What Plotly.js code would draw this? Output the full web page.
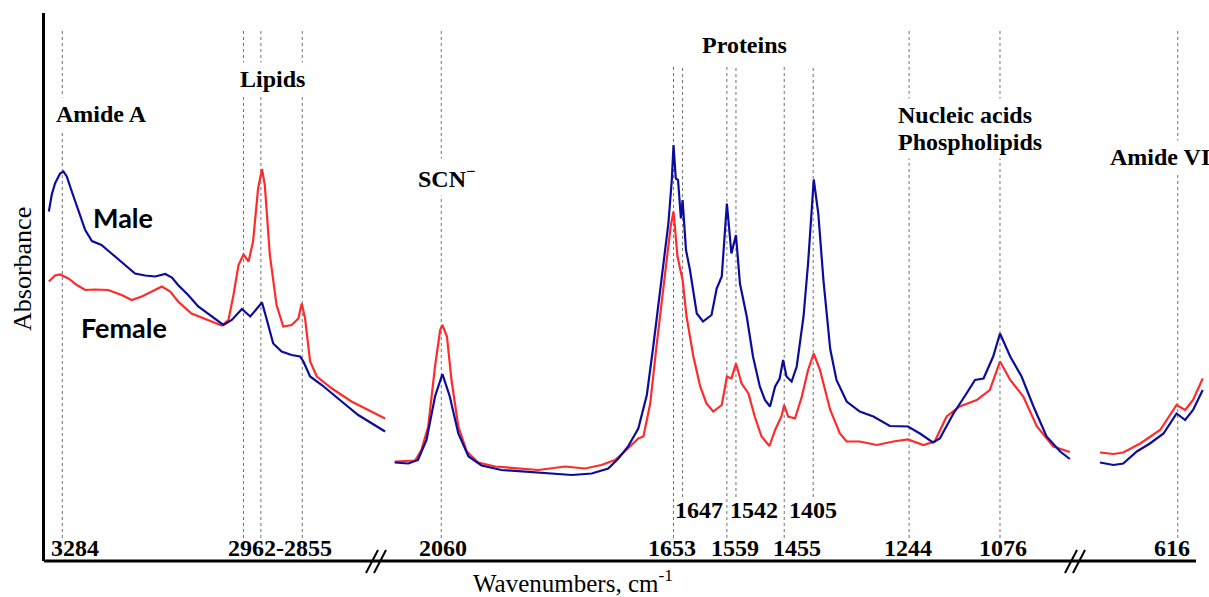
<!DOCTYPE html>
<html>
<head>
<meta charset="utf-8">
<script src="https://cdn.plot.ly/plotly-3.0.1.min.js"></script>
<style>html,body{margin:0;padding:0;background:#fff;}#chart{width:1209px;height:597px;}</style>
</head>
<body>
<div id="chart"></div>
<script>
// ---------------- DATA ----------------
// Segment 1 (high wavenumber region), cm-1 and absorbance (a.u.)
const maleWn1 = [3308,3303,3297,3288,3282,3276,3267,3255,3243,3231,3214,3196,3172,3154,3136,3118,3100,3088,3077,3059,3041,3017,2996,2981,2963,2948,2936,2927,2919,2907,2892,2874,2859,2853,2841,2820,2791,2755,2707];
const maleAbs1 = [0.699,0.732,0.755,0.775,0.779,0.769,0.739,0.699,0.662,0.640,0.632,0.615,0.592,0.575,0.571,0.569,0.574,0.567,0.552,0.532,0.509,0.489,0.472,0.482,0.504,0.489,0.505,0.517,0.485,0.435,0.419,0.412,0.409,0.399,0.369,0.352,0.325,0.292,0.259];
const femaleWn1 = [3308,3297,3288,3273,3258,3243,3226,3202,3178,3160,3142,3124,3106,3091,3077,3053,3029,2999,2987,2978,2969,2960,2951,2943,2934,2927,2922,2913,2901,2889,2874,2862,2856,2850,2841,2829,2802,2767,2707];
const femaleAbs1 = [0.559,0.571,0.573,0.565,0.552,0.542,0.543,0.542,0.532,0.522,0.529,0.539,0.549,0.539,0.519,0.495,0.485,0.471,0.482,0.532,0.592,0.613,0.599,0.639,0.745,0.784,0.752,0.612,0.512,0.469,0.472,0.485,0.515,0.485,0.399,0.369,0.345,0.319,0.285];

// Segment 2 (2150-950 cm-1)
const maleWn2 = [2142,2118,2101,2086,2071,2058,2045,2030,2012,1989,1954,1913,1866,1830,1795,1766,1748,1731,1713,1698,1687,1678,1669,1660,1654,1651,1647,1643,1638,1635,1629,1622,1610,1599,1584,1575,1566,1557,1549,1541,1534,1522,1511,1499,1490,1481,1472,1464,1458,1452,1443,1434,1422,1414,1404,1396,1387,1375,1364,1346,1323,1299,1270,1238,1217,1194,1182,1158,1135,1120,1105,1088,1076,1058,1038,1017,994,970,953];
const maleAbs2 = [0.197,0.195,0.202,0.242,0.329,0.374,0.329,0.255,0.209,0.191,0.182,0.179,0.175,0.172,0.175,0.185,0.205,0.229,0.265,0.332,0.426,0.509,0.602,0.675,0.762,0.832,0.765,0.762,0.685,0.722,0.622,0.582,0.495,0.479,0.492,0.545,0.569,0.715,0.615,0.652,0.555,0.489,0.409,0.349,0.322,0.309,0.349,0.365,0.402,0.369,0.359,0.389,0.489,0.595,0.763,0.695,0.562,0.424,0.362,0.319,0.299,0.289,0.270,0.269,0.255,0.237,0.245,0.295,0.335,0.362,0.365,0.409,0.455,0.409,0.369,0.309,0.249,0.219,0.204];
const femaleWn2 = [2142,2106,2095,2083,2071,2062,2058,2050,2042,2030,2015,1995,1965,1924,1889,1842,1807,1778,1754,1737,1713,1704,1692,1681,1672,1663,1656,1651,1644,1635,1628,1616,1604,1593,1581,1566,1557,1549,1541,1531,1519,1508,1496,1482,1472,1461,1456,1449,1437,1425,1414,1404,1393,1375,1358,1346,1323,1293,1264,1238,1211,1191,1170,1147,1117,1094,1076,1058,1035,1011,982,953];
const femaleAbs2 = [0.199,0.201,0.222,0.269,0.389,0.462,0.472,0.449,0.362,0.269,0.219,0.197,0.189,0.185,0.182,0.189,0.185,0.192,0.202,0.219,0.245,0.249,0.315,0.429,0.515,0.609,0.669,0.699,0.609,0.562,0.489,0.409,0.349,0.315,0.299,0.312,0.369,0.365,0.395,0.355,0.335,0.289,0.249,0.230,0.262,0.289,0.312,0.289,0.285,0.329,0.382,0.415,0.382,0.302,0.255,0.239,0.239,0.232,0.239,0.243,0.232,0.239,0.289,0.309,0.322,0.342,0.399,0.362,0.329,0.269,0.229,0.218];

// Segment 3 (low wavenumber region)
const maleWn3 = [753,729,712,688,665,641,618,603,589,572];
const maleAbs3 = [0.197,0.192,0.195,0.219,0.235,0.255,0.295,0.282,0.302,0.342];
const femaleWn3 = [753,729,712,682,647,618,603,589,572];
const femaleAbs3 = [0.217,0.214,0.217,0.235,0.262,0.312,0.302,0.322,0.365];

const markedWn = [3284,2960,2929,2855,2060,1651,1635,1557,1541,1456,1405,1236,1076,616];
const proteinWn = [1651,1635,1557,1541,1456,1405];
const upperRowWn = [1635,1541,1405];

// Text labels
const bottomLabels = ['3284','2962-2855','2060','1653','1559','1455','1244','1076','616'];
const upperLabels = ['1647','1542','1405'];
const bandNames = ['Amide A','Lipids','SCN<sup>−</sup>','Proteins','Nucleic acids','Phospholipids','Amide VI'];
const seriesNames = ['Male','Female'];
const xTitle = 'Wavenumbers, cm<sup>-1</sup>';
const yTitle = 'Absorbance';

// ---------------- LAYOUT HELPERS ----------------
const L = 45, R = 1205, T = 13, B = 561;
const PX = px => (px - L) / (R - L);
const PY = py => (B - py) / (B - T);

const BLUE = '#0c0c9c', RED = '#ff2b2b';
const serif = 'Liberation Serif, Times New Roman, serif';

function axisFor(wn){ return wn > 2400 ? 'x' : (wn > 850 ? 'x2' : 'x3'); }

const traces = [
  {x: femaleWn1, y: femaleAbs1, xaxis:'x', yaxis:'y', name: seriesNames[1], line:{color:RED, width:2.2}},
  {x: femaleWn2, y: femaleAbs2, xaxis:'x2', yaxis:'y', name: seriesNames[1], line:{color:RED, width:2.2}},
  {x: femaleWn3, y: femaleAbs3, xaxis:'x3', yaxis:'y', name: seriesNames[1], line:{color:RED, width:2.2}},
  {x: maleWn1, y: maleAbs1, xaxis:'x', yaxis:'y', name: seriesNames[0], line:{color:BLUE, width:2.2}},
  {x: maleWn2, y: maleAbs2, xaxis:'x2', yaxis:'y', name: seriesNames[0], line:{color:BLUE, width:2.2}},
  {x: maleWn3, y: maleAbs3, xaxis:'x3', yaxis:'y', name: seriesNames[0], line:{color:BLUE, width:2.2}}
].map(t => Object.assign(t, {type:'scatter', mode:'lines', showlegend:false, hoverinfo:'skip'}));

const shapes = [];
markedWn.forEach(wn => {
  const top = proteinWn.includes(wn) ? 65 : 31;
  const bot = upperRowWn.includes(wn) ? 497 : 538;
  shapes.push({type:'line', xref: axisFor(wn), yref:'paper', x0: wn, x1: wn, y0: PY(bot), y1: PY(top),
    line:{color:'#707070', width:1, dash:'dot'}, layer:'below'});
});
// bottom axis line
shapes.push({type:'line', xref:'paper', yref:'paper', x0: PX(44), x1: PX(1196), y0: 0, y1: 0, line:{color:'black', width:3}});
// axis break marks
[[366,378],[374,386],[1065,1077],[1073,1085]].forEach(([a,b]) => {
  shapes.push({type:'line', xref:'paper', yref:'paper', x0: PX(a), y0: PY(573), x1: PX(b), y1: PY(550), line:{color:'black', width:2}});
});

const annotations = [];
const bottomPos = [75,280,443,672,734.5,797,907.5,1002.5,1172];
bottomLabels.forEach((t,i) => annotations.push({text:t, x:PX(bottomPos[i]), y:PY(548)}));
const upperPos = [699,754,813];
upperLabels.forEach((t,i) => annotations.push({text:t, x:PX(upperPos[i]), y:PY(510)}));
annotations.forEach(a => Object.assign(a, {xref:'paper', yref:'paper', showarrow:false, xanchor:'center', yanchor:'middle',
  font:{family:serif, size:24, color:'black', weight:'bold'}}));

const bandPos = [[101.5,114,'center'],[272.5,79,'center'],[447,177,'center'],[744.5,45,'center'],[894,114.5,'left'],[894,142,'left'],[1106,157,'left']];
bandNames.forEach((t,i) => {
  const [x,y,anc] = bandPos[i];
  annotations.push({text:t, xref:'paper', yref:'paper', x:PX(x), y:PY(y), showarrow:false, xanchor:anc, yanchor:'middle',
    bgcolor: i === 3 ? 'rgba(0,0,0,0)' : 'white', borderpad: 3,
    font:{family:serif, size:24, color:'black', weight:'bold'}});
});

const namePos = [[123,217],[124,327]];
seriesNames.forEach((t,i) => annotations.push({text:t, xref:'paper', yref:'paper', x:PX(namePos[i][0]), y:PY(namePos[i][1]),
  showarrow:false, xanchor:'center', yanchor:'middle', font:{family:'Lato, Open Sans, sans-serif', size:27, color:'black', weight:'bold'}}));

annotations.push({text:xTitle, xref:'paper', yref:'paper', x:PX(573), y:PY(581), showarrow:false, xanchor:'center', yanchor:'middle',
  font:{family:serif, size:25, color:'black'}});
annotations.push({text:yTitle, xref:'paper', yref:'paper', x:PX(22), y:PY(269), showarrow:false, xanchor:'center', yanchor:'middle',
  textangle:-90, font:{family:serif, size:26, color:'black'}});

const hidden = {showgrid:false, zeroline:false, showline:false, showticklabels:false, ticks:'', fixedrange:true};

const layout = {
  width:1209, height:597,
  margin:{l:L, r:1209-R, t:T, b:597-B},
  paper_bgcolor:'white', plot_bgcolor:'white',
  showlegend:false,
  xaxis: Object.assign({domain:[0, PX(390)], range:[3314.9, 2698.2], anchor:'y'}, hidden),
  xaxis2: Object.assign({domain:[PX(390), PX(1075)], range:[2150.3, 943.9], anchor:'y'}, hidden),
  xaxis3: Object.assign({domain:[PX(1090), 1], range:[770.5, 568.0], anchor:'y'}, hidden),
  yaxis: {range:[0, (B-T)/500], anchor:'x', showgrid:false, zeroline:false, showticklabels:false, ticks:'',
    showline:true, linecolor:'black', linewidth:3, fixedrange:true},
  shapes: shapes,
  annotations: annotations
};

Plotly.newPlot('chart', traces, layout, {staticPlot:true, displayModeBar:false}).then(gd => {
  // drop empty placeholder text nodes left by hidden axes
  gd.querySelectorAll('text').forEach(t => { if (!t.textContent.trim()) t.remove(); });
});
</script>
</body>
</html>
